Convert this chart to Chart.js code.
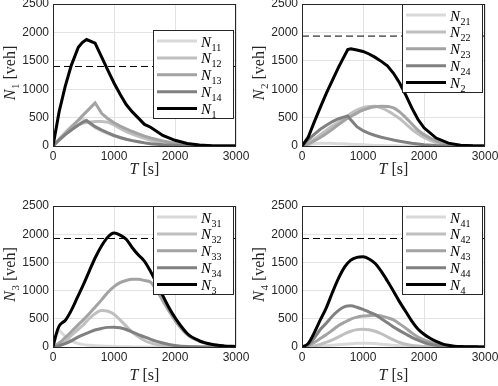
<!DOCTYPE html>
<html>
<head>
<meta charset="utf-8">
<script src="https://cdn.jsdelivr.net/npm/chart.js@4.4.0/dist/chart.umd.min.js"></script>
<style>
html, body { margin: 0; padding: 0; background: #fff; width: 498px; height: 386px; overflow: hidden; }
canvas { position: absolute; }
</style>
</head>
<body>
<canvas id="c1" width="249" height="199" style="left:0;top:-6px"></canvas>
<canvas id="c2" width="249" height="199" style="left:249px;top:-6px"></canvas>
<canvas id="c3" width="249" height="190" style="left:0;top:196px"></canvas>
<canvas id="c4" width="249" height="190" style="left:249px;top:196px"></canvas>
<script>
// Osne oznake
const xTicks = [0, 1000, 2000, 3000];
const yTicks = [0, 500, 1000, 1500, 2000, 2500];

// Panel 1 - vremena (s) i broj vozila
const t1 = [0, 100, 200, 300, 415, 480, 550, 690, 800, 900, 1000, 1100, 1200, 1300, 1400, 1500, 1600, 1800, 2000, 2200, 2400, 2600, 2800, 3000];
const n11 = [0, 130, 250, 350, 450, 490, 430, 320, 260, 215, 180, 145, 118, 95, 75, 58, 40, 24, 12, 6, 3, 1, 0, 0];
const n12 = [0, 100, 200, 290, 370, 400, 415, 430, 430, 420, 370, 310, 255, 210, 170, 135, 100, 60, 32, 15, 6, 2, 0, 0];
const n13 = [0, 110, 220, 330, 455, 530, 605, 760, 570, 480, 410, 350, 300, 255, 215, 175, 140, 90, 50, 25, 10, 4, 1, 0];
const n14 = [0, 110, 200, 280, 370, 415, 450, 340, 280, 230, 185, 150, 120, 95, 75, 55, 40, 22, 12, 6, 2, 1, 0, 0];
const n1 = [0, 600, 1050, 1420, 1740, 1820, 1875, 1810, 1560, 1330, 1110, 910, 730, 600, 490, 380, 330, 185, 100, 45, 18, 6, 2, 0];

// Panel 2
const t2 = [0, 100, 200, 300, 400, 500, 600, 750, 800, 900, 1000, 1100, 1200, 1300, 1400, 1500, 1600, 1700, 1800, 1900, 2000, 2200, 2400, 2600, 2800, 3000];
const n21 = [0, 20, 40, 50, 50, 45, 40, 35, 30, 25, 20, 15, 10, 7, 5, 3, 2, 1, 0, 0, 0, 0, 0, 0, 0, 0];
const n22 = [0, 50, 120, 200, 280, 355, 420, 530, 570, 630, 675, 695, 698, 670, 620, 555, 485, 390, 295, 215, 150, 60, 15, 3, 0, 0];
const n23 = [0, 35, 90, 150, 220, 300, 380, 490, 520, 580, 630, 670, 690, 700, 695, 670, 600, 500, 390, 280, 200, 90, 25, 5, 0, 0];
const n24 = [0, 110, 205, 295, 366, 430, 480, 530, 460, 340, 270, 222, 185, 155, 130, 105, 85, 65, 48, 35, 22, 8, 2, 0, 0, 0];
const n2 = [0, 150, 420, 680, 930, 1160, 1390, 1700, 1712, 1690, 1665, 1620, 1560, 1490, 1410, 1280, 1110, 900, 670, 470, 320, 140, 50, 15, 4, 0];

// Panel 3
const t3 = [0, 50, 100, 150, 200, 300, 400, 500, 600, 700, 800, 900, 1000, 1100, 1200, 1300, 1400, 1500, 1600, 1700, 1800, 1900, 2000, 2200, 2400, 2600, 2800, 3000];
const n31 = [0, 180, 290, 240, 190, 110, 65, 42, 30, 22, 18, 12, 8, 5, 3, 2, 1, 0, 0, 0, 0, 0, 0, 0, 0, 0, 0, 0];
const n32 = [0, 10, 30, 55, 90, 205, 300, 395, 510, 600, 645, 635, 580, 480, 370, 265, 180, 115, 72, 42, 25, 14, 8, 2, 0, 0, 0, 0];
const n33 = [0, 30, 70, 115, 165, 270, 380, 485, 600, 720, 840, 970, 1070, 1140, 1180, 1200, 1200, 1180, 1150, 1000, 820, 640, 470, 220, 100, 40, 15, 5];
const n34 = [0, 10, 25, 40, 60, 110, 170, 220, 265, 305, 330, 348, 352, 340, 310, 265, 220, 180, 135, 100, 70, 45, 28, 8, 2, 0, 0, 0];
const n3 = [0, 220, 370, 430, 470, 650, 880, 1110, 1360, 1600, 1800, 1950, 2020, 1985, 1910, 1760, 1630, 1520, 1340, 1130, 910, 700, 520, 240, 110, 48, 20, 8];

// Panel 4
const t4 = [0, 100, 200, 300, 400, 500, 600, 700, 800, 900, 1000, 1100, 1200, 1300, 1400, 1500, 1600, 1700, 1800, 1900, 2000, 2100, 2200, 2300, 2400, 2500, 2600, 2700, 2800, 2900, 3000];
const n41 = [0, 2, 8, 15, 24, 32, 40, 50, 58, 65, 68, 66, 60, 50, 42, 32, 24, 17, 12, 8, 5, 3, 2, 1, 0, 0, 0, 0, 0, 0, 0];
const n42 = [0, 3, 18, 45, 85, 128, 180, 235, 280, 308, 316, 305, 280, 235, 180, 125, 80, 48, 28, 17, 10, 6, 3, 2, 1, 0, 0, 0, 0, 0, 0];
const n43 = [0, 20, 80, 150, 220, 300, 380, 440, 495, 530, 548, 556, 561, 550, 520, 480, 410, 335, 250, 175, 125, 90, 60, 35, 18, 9, 4, 2, 1, 0, 0];
const n44 = [0, 40, 160, 310, 425, 550, 650, 715, 730, 705, 667, 620, 575, 500, 430, 355, 290, 230, 170, 120, 80, 50, 30, 16, 8, 4, 2, 1, 0, 0, 0];
const n4 = [0, 60, 250, 480, 700, 970, 1220, 1420, 1540, 1590, 1600, 1560, 1480, 1340, 1170, 990, 800, 630, 460, 320, 225, 155, 100, 55, 30, 15, 8, 5, 3, 2, 1];

// Kapaciteti (isprekidana linija)
const limits = [1400, 1935, 1924, 1924];

const shades = ['#d9d9d9', '#bfbfbf', '#a3a3a3', '#808080', '#000000'];
const serif = '"Liberation Serif", "DejaVu Serif", serif';
const sans = '"Liberation Sans", Arial, sans-serif';

// Crta "N" sa indeksom, vraca sirinu
function drawIndexed(ctx, x, y, sub, size) {
    ctx.font = 'italic ' + size + 'px ' + serif;
    ctx.fillText('N', x, y);
    const w = ctx.measureText('N').width;
    ctx.font = Math.round(size * 0.68) + 'px ' + serif;
    ctx.fillText(sub, x + w + 0.5, y + 4);
    return w + 0.5 + ctx.measureText(sub).width;
}

const decor = {
    id: 'decor',
    afterDraw(chart, args, o) {
        const ctx = chart.ctx;
        const a = chart.chartArea;
        ctx.save();
        // okvir
        ctx.strokeStyle = '#262626';
        ctx.lineWidth = 1;
        ctx.strokeRect(Math.round(a.left) + 0.5, Math.round(a.top) + 0.5, Math.round(a.right - a.left) - 1, Math.round(a.bottom - a.top));

        // legenda
        const bx = Math.round(a.right) - 83, by = Math.round(a.top) + o.legendTop;
        ctx.fillStyle = '#fff';
        ctx.fillRect(bx, by, 80, 88);
        ctx.strokeRect(bx + 0.5, by + 0.5, 80, 88);
        o.subs.forEach((s, i) => {
            const ly = by + 11 + i * 16.9;
            ctx.strokeStyle = shades[i];
            ctx.lineWidth = 3;
            ctx.beginPath();
            ctx.moveTo(bx + 4, ly);
            ctx.lineTo(bx + 44, ly);
            ctx.stroke();
            ctx.fillStyle = '#000';
            ctx.textAlign = 'left';
            ctx.textBaseline = 'alphabetic';
            drawIndexed(ctx, bx + 48, ly + 5.5, s, 15);
        });

        // naslovi osa
        ctx.fillStyle = '#262626';
        ctx.textBaseline = 'alphabetic';
        ctx.textAlign = 'left';
        // y osa
        ctx.font = 'italic 16px ' + serif;
        const wN = ctx.measureText('N').width;
        ctx.font = '11px ' + serif;
        const wS = ctx.measureText(o.ySub).width;
        ctx.font = '16px ' + serif;
        const wR = ctx.measureText(' [veh]').width;
        const total = wN + 0.5 + wS + wR;
        ctx.translate(15, (a.top + a.bottom) / 2 - 2);
        ctx.rotate(-Math.PI / 2);
        const w = drawIndexed(ctx, -total / 2, 0, o.ySub, 16);
        ctx.font = '16px ' + serif;
        ctx.fillText(' [veh]', -total / 2 + w, 0);
        ctx.setTransform(1, 0, 0, 1, 0, 0);
        // x osa
        ctx.font = 'italic 16px ' + serif;
        const wT = ctx.measureText('T').width;
        ctx.font = '16px ' + serif;
        const wU = ctx.measureText(' [s]').width;
        const xc = (a.left + a.right) / 2 - (wT + wU) / 2;
        const yb = a.bottom + o.xGap;
        ctx.font = 'italic 16px ' + serif;
        ctx.fillText('T', xc, yb);
        ctx.font = '16px ' + serif;
        ctx.fillText(' [s]', xc + wT, yb);
        ctx.restore();
    }
};

function makePanel(id, t, series, subs, limit, ySub, legendTop, xAxisH, xGap, smooth) {
    const datasets = series.map((vals, i) => ({
        label: 'N' + subs[i],
        data: t.map((x, k) => ({ x: x, y: vals[k] })),
        borderColor: shades[i],
        borderWidth: 3,
        pointRadius: 0,
        fill: false,
        tension: 0,
        cubicInterpolationMode: smooth[i] ? 'monotone' : 'default',
        order: 5 - i
    }));
    datasets.push({
        label: 'limit',
        data: [{ x: 0, y: limit }, { x: 3000, y: limit }],
        borderColor: '#000',
        borderWidth: 1,
        borderDash: [7, 4],
        pointRadius: 0,
        fill: false,
        order: 0
    });

    const tickFont = { family: sans, size: 12 };
    return new Chart(document.getElementById(id), {
        type: 'line',
        data: { datasets: datasets },
        plugins: [decor],
        options: {
            responsive: false,
            animation: false,
            events: [],
            layout: { padding: { left: 0, right: 13, top: 10, bottom: 0 } },
            plugins: {
                legend: { display: false },
                tooltip: { enabled: false },
                decor: { subs: subs, ySub: ySub, legendTop: legendTop, xGap: xGap }
            },
            scales: {
                x: {
                    type: 'linear',
                    min: 0,
                    max: 3000,
                    afterBuildTicks: s => { s.ticks = xTicks.map(v => ({ value: v })); },
                    afterFit: s => { s.height = xAxisH; s.paddingLeft = 0; s.paddingRight = 0; },
                    ticks: { color: '#262626', font: tickFont, padding: 3, maxRotation: 0, callback: v => String(v) },
                    grid: { color: '#e3e3e3', drawTicks: false },
                    border: { display: false }
                },
                y: {
                    min: 0,
                    max: 2500,
                    afterBuildTicks: s => { s.ticks = yTicks.map(v => ({ value: v })); },
                    afterFit: s => { s.width = 53; s.paddingTop = 0; s.paddingBottom = 0; },
                    ticks: { color: '#262626', font: tickFont, padding: 4, callback: v => String(v) },
                    grid: { color: '#e3e3e3', drawTicks: false },
                    border: { display: false }
                }
            }
        }
    });
}

const kinked = [false, false, false, false, false];
const smoothAll = [true, true, true, true, true];
makePanel('c1', t1, [n11, n12, n13, n14, n1], ['11', '12', '13', '14', '1'], limits[0], '1', 26, 47, 28, kinked);
makePanel('c2', t2, [n21, n22, n23, n24, n2], ['21', '22', '23', '24', '2'], limits[1], '2', 0, 47, 28, [true, true, true, false, false]);
makePanel('c3', t3, [n31, n32, n33, n34, n3], ['31', '32', '33', '34', '3'], limits[2], '3', 0, 39, 33, smoothAll);
makePanel('c4', t4, [n41, n42, n43, n44, n4], ['41', '42', '43', '44', '4'], limits[3], '4', 0, 39, 33, smoothAll);
</script>
</body>
</html>
